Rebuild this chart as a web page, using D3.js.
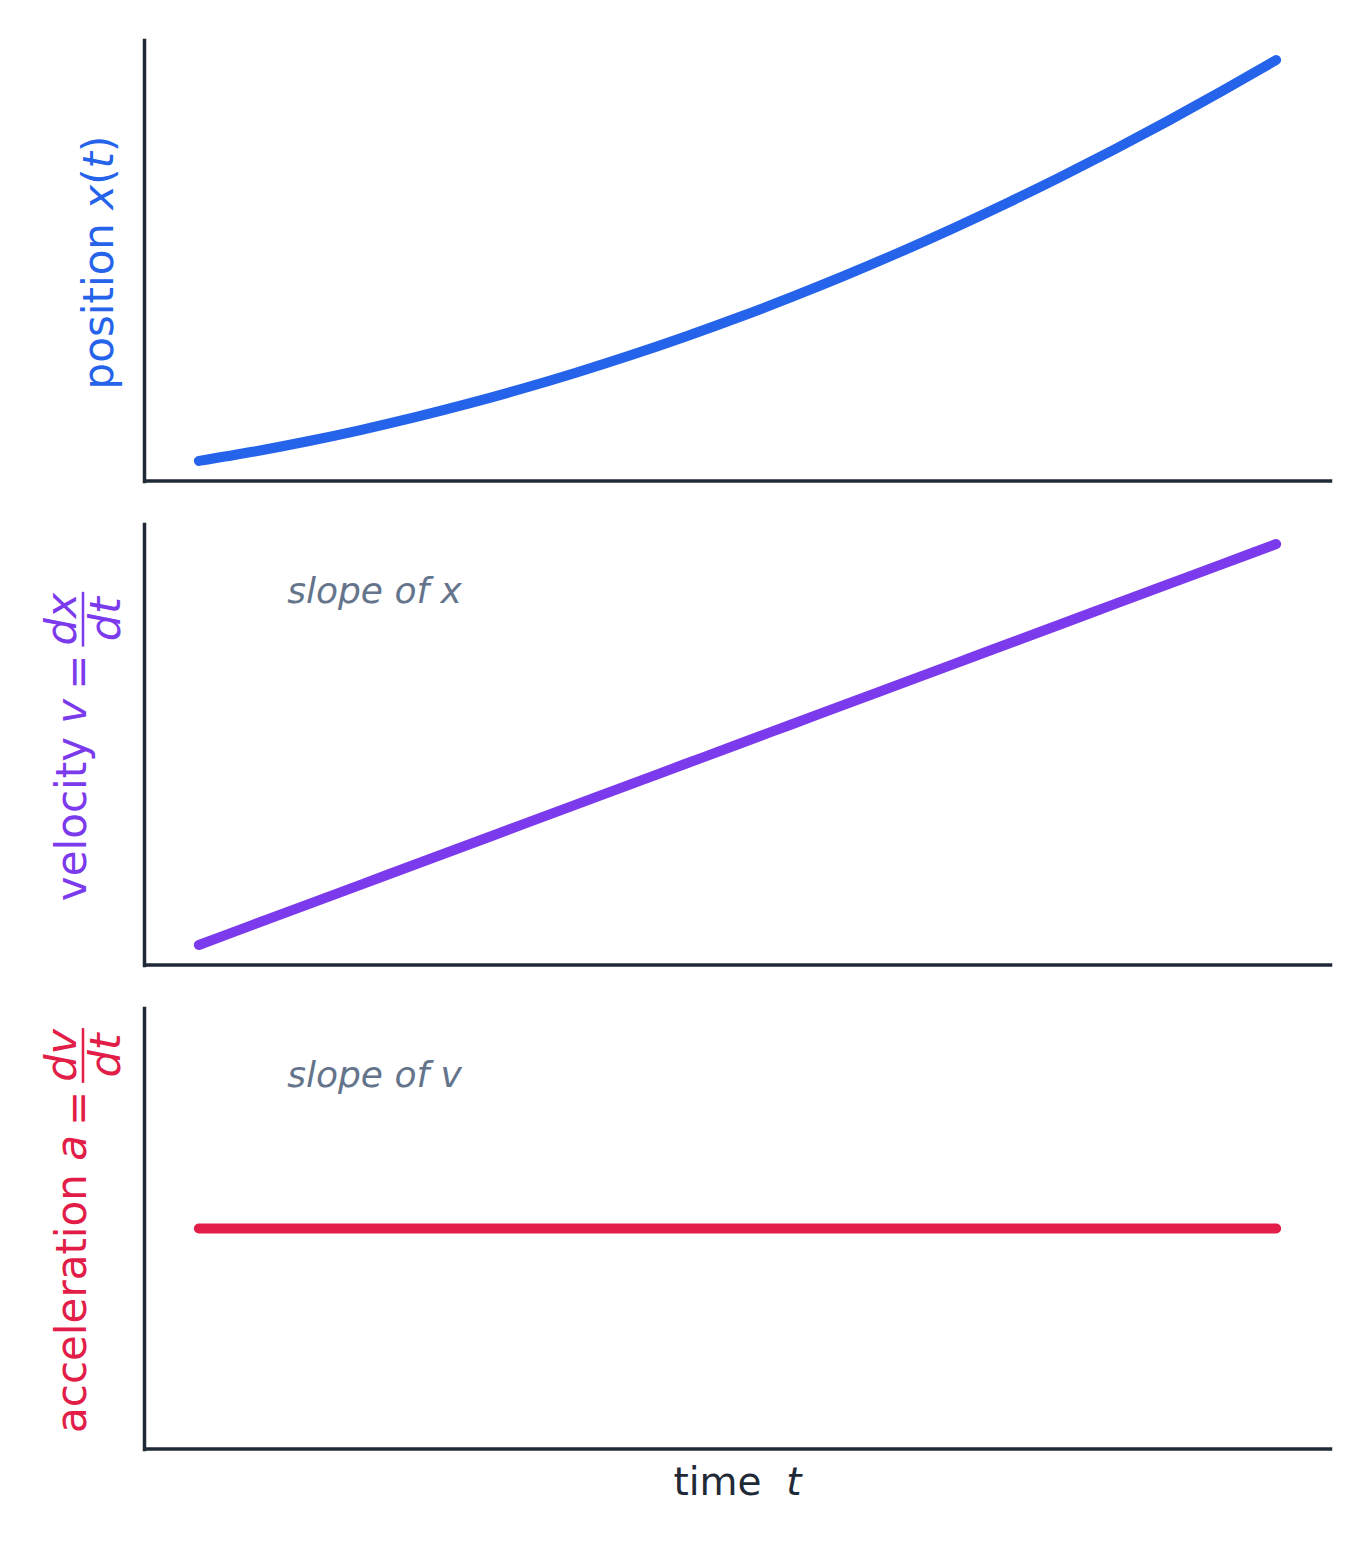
<!DOCTYPE html>
<html><head><meta charset="utf-8">
<script src="https://cdn.jsdelivr.net/npm/d3@7"></script>
<style>html,body{margin:0;padding:0;background:#fff;} svg{display:block;font-family:"DejaVu Sans",sans-serif;}</style>
</head><body><svg id="chart" width="1371" height="1545"></svg>
<script>
// ---- data ----
const time = [0,0.5,1,1.5,2,2.5,3,3.5,4,4.5,5,5.5,6,6.5,7,7.5,8,8.5,9,9.5,10];
const position = [0,0.8,1.7,2.7,3.8,5.0,6.3,7.7,9.2,10.8,12.5,14.3,16.2,18.2,20.3,22.5,24.8,27.2,29.7,32.3,35.0];
const velocity = [1.5,1.7,1.9,2.1,2.3,2.5,2.7,2.9,3.1,3.3,3.5,3.7,3.9,4.1,4.3,4.5,4.7,4.9,5.1,5.3,5.5];
const acceleration = [0.4,0.4,0.4,0.4,0.4,0.4,0.4,0.4,0.4,0.4,0.4,0.4,0.4,0.4,0.4,0.4,0.4,0.4,0.4,0.4,0.4];
const seriesNames = ["position","velocity","acceleration"];
const seriesColors = ["#2563eb","#7c3aed","#e11d48"];
const annotations = [null, "slope of x", "slope of v"];
const xLabelText = "time";
const xLabelVar = "t";

const svg = d3.select("#chart");
const left = 145, right = 1330;
const panelTops = [40, 524, 1008], panelH = 441;
const axisColor = "#1f2937";

function pad([a, b]) {
  const m = (b - a) * 0.05 || Math.abs(a) * 0.1 || 1;
  return [a - m, b + m];
}
const x = d3.scaleLinear().domain(pad(d3.extent(time))).range([left, right]);
const data = [position, velocity, acceleration];

data.forEach((vals, k) => {
  const top = panelTops[k], bottom = top + panelH;
  const y = d3.scaleLinear().domain(pad(d3.extent(vals))).range([bottom, top]);
  const g = svg.append("g");
  const line = d3.line().x((d, i) => x(time[i])).y(d => y(d)).curve(d3.curveMonotoneX);
  g.append("path").datum(vals).attr("d", line)
    .attr("fill", "none").attr("stroke", seriesColors[k])
    .attr("stroke-width", 10).attr("stroke-linecap", "round").attr("stroke-linejoin", "round");
  const ax = g.append("g").attr("transform", `translate(0,${bottom - 0.5})`)
    .call(d3.axisBottom(x).tickValues([]).tickSizeOuter(0));
  const ay = g.append("g").attr("transform", `translate(${left - 1},0)`)
    .call(d3.axisLeft(y).tickValues([]).tickSizeOuter(0));
  [ax, ay].forEach(a => a.select(".domain").attr("stroke", axisColor).attr("stroke-width", 3.5).attr("stroke-linecap", "square"));
  if (annotations[k]) {
    g.append("text").attr("x", left + 0.12 * (right - left)).attr("y", top + 0.15 * panelH)
      .attr("dominant-baseline", "central").attr("fill", "#64748b")
      .style("font-size", "36px").style("font-style", "italic").text(annotations[k]);
  }
});

function mathLabel(pieces, frac, baseX, cy, color) {
  const g = svg.append("g").attr("fill", color).style("font-size", "42px");
  let cursor = 0;
  pieces.forEach(p => {
    if (p.gap) { cursor += p.gap; return; }
    const t = g.append("text").attr("x", cursor).attr("y", p.dy || 0)
      .style("white-space", "pre").style("font-style", p.it ? "italic" : "normal").text(p.s);
    cursor += t.node().getComputedTextLength();
  });
  if (frac) {
    const n = g.append("text").style("font-style", "italic").style("font-size", "43px").attr("text-anchor", "middle").text(frac.num);
    const d = g.append("text").style("font-style", "italic").style("font-size", "43px").attr("text-anchor", "middle").text(frac.den);
    const w = Math.max(n.node().getComputedTextLength(), d.node().getComputedTextLength()) + 2;
    n.attr("x", cursor + w / 2).attr("y", frac.numY);
    d.attr("x", cursor + w / 2).attr("y", frac.denY);
    g.append("line").attr("x1", cursor).attr("x2", cursor + w).attr("y1", frac.barY).attr("y2", frac.barY)
      .attr("stroke", color).attr("stroke-width", 2.5);
    cursor += w;
  }
  g.attr("transform", `translate(${baseX},${cy + cursor / 2}) rotate(-90)`);
}

const centers = panelTops.map(t => t + panelH / 2 + 2);
mathLabel([{s: seriesNames[0] + " "}, {s: "x", it: 1}, {s: "("}, {s: "t", it: 1}, {s: ")"}],
  null, 113, centers[0], seriesColors[0]);
mathLabel([{s: seriesNames[1] + " "}, {s: "v", it: 1}, {gap: 9}, {s: "=", dy: 6}, {gap: 8}],
  {num: "dx", den: "dt", barY: -3, numY: -10, denY: 34}, 86, centers[1], seriesColors[1]);
mathLabel([{s: seriesNames[2] + " "}, {s: "a", it: 1}, {gap: 9}, {s: "=", dy: 6}, {gap: 8}],
  {num: "dv", den: "dt", barY: -3, numY: -10, denY: 34}, 86, centers[2], seriesColors[2]);

const xl = svg.append("text").attr("x", (left + right) / 2).attr("y", 1495)
  .attr("text-anchor", "middle").attr("fill", axisColor).style("font-size", "39px").style("white-space", "pre");
xl.append("tspan").text(xLabelText + "  ");
xl.append("tspan").style("font-style", "italic").text(xLabelVar);
</script>
</body></html>
